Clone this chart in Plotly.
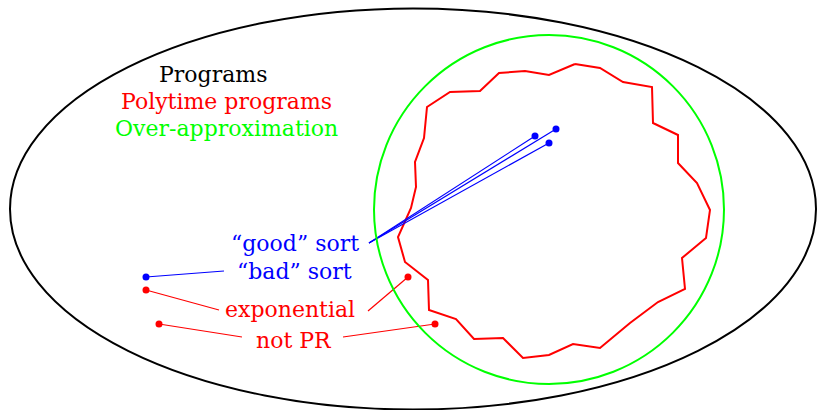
import plotly.graph_objects as go

# ---- data (diagram coordinates, pixel-like, y downward) ----
ellipse_box = [10, 8.5, 816, 409.5]      # x0, y0, x1, y1 of "Programs" ellipse
circle_box = [374, 35, 724, 384]         # over-approximation circle

poly_x = [575, 600, 623, 652, 653, 678, 678, 697, 710, 706, 682, 685, 658, 630, 600,
          573, 549, 523, 503, 474, 456, 429, 428, 405, 398, 411, 416, 415, 424, 427,
          450, 480, 499, 525, 549, 575]
poly_y = [64, 68, 82, 87, 123, 135, 163, 183, 210, 238, 258, 289, 302, 323, 348,
          344, 355, 358, 338, 339, 319, 310, 280, 262, 237, 208, 187, 162, 138, 107,
          92, 91, 73, 71, 75, 64]

good_x = [535, 556, 549]
good_y = [136, 129, 143]
good_anchor = [369, 243]

bad_dot = [146, 277]
bad_anchor = [224, 271]

exp_left_dot = [146, 290]
exp_left_anchor = [219, 310]
exp_right_dot = [408, 277]
exp_right_anchor = [368, 311]

npr_left_dot = [159, 324]
npr_left_anchor = [242, 337]
npr_right_dot = [435, 324]
npr_right_anchor = [343, 337]

labels = ["Programs", "Polytime programs", "Over-approximation",
          "\u201cgood\u201d sort", "\u201cbad\u201d sort", "exponential", "not PR"]
label_x = [213, 226.5, 226.5, 295, 294.5, 289.5, 293.7]
label_y = [74.5, 101.5, 128.5, 243, 271.5, 309.5, 340]
label_colors = ["#000000", "#ff0000", "#00ff00", "#0000ff", "#0000ff", "#ff0000", "#ff0000"]

BLUE = "#0000ff"
RED = "#ff0000"
GREEN = "#00ff00"
FONT = "DejaVu Serif"
FS = 22

W, H = 817, 410

fig = go.Figure()

# red polytime region
fig.add_trace(go.Scatter(x=poly_x, y=poly_y, mode="lines",
                         line=dict(color=RED, width=2), hoverinfo="skip"))

# good sort lines
for gx, gy in zip(good_x, good_y):
    fig.add_trace(go.Scatter(x=[good_anchor[0], gx], y=[good_anchor[1], gy], mode="lines",
                             line=dict(color=BLUE, width=1.2), hoverinfo="skip"))
fig.add_trace(go.Scatter(x=good_x, y=good_y, mode="markers",
                         marker=dict(color=BLUE, size=7), hoverinfo="skip"))

# bad sort
fig.add_trace(go.Scatter(x=[bad_dot[0], bad_anchor[0]], y=[bad_dot[1], bad_anchor[1]],
                         mode="lines", line=dict(color=BLUE, width=1.2), hoverinfo="skip"))
fig.add_trace(go.Scatter(x=[bad_dot[0]], y=[bad_dot[1]], mode="markers",
                         marker=dict(color=BLUE, size=7), hoverinfo="skip"))

# red connectors
for dot, anc in [(exp_left_dot, exp_left_anchor), (exp_right_dot, exp_right_anchor),
                 (npr_left_dot, npr_left_anchor), (npr_right_dot, npr_right_anchor)]:
    fig.add_trace(go.Scatter(x=[dot[0], anc[0]], y=[dot[1], anc[1]], mode="lines",
                             line=dict(color=RED, width=1.2), hoverinfo="skip"))
    fig.add_trace(go.Scatter(x=[dot[0]], y=[dot[1]], mode="markers",
                             marker=dict(color=RED, size=7), hoverinfo="skip"))

shapes = [
    dict(type="circle", xref="x", yref="y",
         x0=ellipse_box[0], y0=ellipse_box[1], x1=ellipse_box[2], y1=ellipse_box[3],
         line=dict(color="#000000", width=2)),
    dict(type="circle", xref="x", yref="y",
         x0=circle_box[0], y0=circle_box[1], x1=circle_box[2], y1=circle_box[3],
         line=dict(color=GREEN, width=2)),
]

annotations = [
    dict(x=x, y=y, xref="x", yref="y", text=t, showarrow=False,
         xanchor="center", yanchor="middle",
         font=dict(family=FONT, size=FS, color=c))
    for t, x, y, c in zip(labels, label_x, label_y, label_colors)
]

fig.update_layout(
    width=W, height=H,
    margin=dict(l=0, r=0, t=0, b=0),
    paper_bgcolor="white", plot_bgcolor="white",
    showlegend=False,
    xaxis=dict(range=[0, W], visible=False, fixedrange=True),
    yaxis=dict(range=[H, 0], visible=False, fixedrange=True),
    shapes=shapes,
    annotations=annotations,
)

fig.write_html(
    "out.html",
    config={"displayModeBar": False},
    post_script="document.body.style.margin='0';document.body.style.overflow='hidden';",
)
